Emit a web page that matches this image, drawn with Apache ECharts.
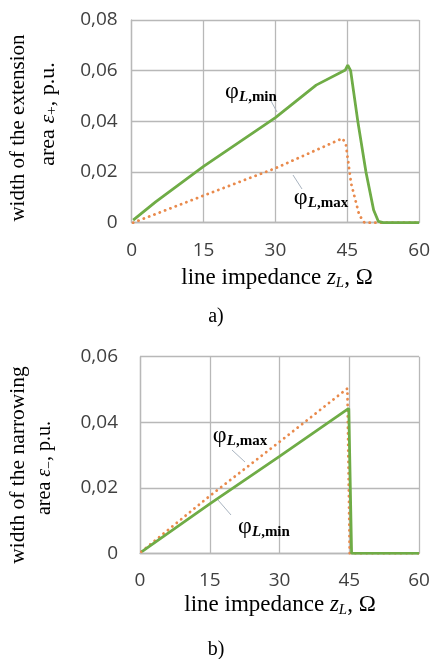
<!DOCTYPE html>
<html><head><meta charset="utf-8">
<script src="https://cdn.jsdelivr.net/npm/echarts@6/dist/echarts.min.js"></script>
<style>html,body{margin:0;padding:0;background:#fff}#c{width:433px;height:659px}</style>
</head><body><div id="c"></div>
<script>
// ---- data ----
// chart a) width of the extension area
const aMinZ = [0.3, 5, 15, 30, 38.5, 44.6, 45.1, 45.7, 47.2, 48.9, 50.5, 51.5, 52.5, 60];
const aMinV = [0.001, 0.0082, 0.0222, 0.0415, 0.0543, 0.0603, 0.0622, 0.0600, 0.040, 0.020, 0.005, 0.0005, 0, 0];
const aMaxZ = [0.3, 15, 30, 44, 44.7, 45.8, 47.5, 48.6, 60];
const aMaxV = [0, 0.0107, 0.0215, 0.0333, 0.031, 0.0155, 0.003, 0, 0];
// chart b) width of the narrowing area
const bMinZ = [0.4, 15, 30, 44.9, 45.5, 60];
const bMinV = [0.0005, 0.0151, 0.0296, 0.0442, 0, 0];
const bMaxZ = [0.3, 15, 30, 44.6, 45.1, 60];
const bMaxV = [0.0005, 0.0175, 0.0340, 0.0503, 0, 0];
const xTicks = [0, 15, 30, 45, 60];
const aYTicks = [0, 0.02, 0.04, 0.06, 0.08];
const bYTicks = [0, 0.02, 0.04, 0.06];

const pair = (xs, ys) => xs.map((x, i) => [x, ys[i]]);
const GREEN = '#6fac46', ORANGE = '#e98a4c', GRID = '#b8b8b8';
const SERIF = '"Liberation Serif","DejaVu Serif",serif';
const SANS = '"Open Sans","Liberation Sans",sans-serif';

function xAxis(gi, margin) {
  return {
    type: 'value', gridIndex: gi, min: xTicks[0], max: xTicks[xTicks.length - 1], interval: 15,
    axisLine: {show: true, lineStyle: {color: GRID, width: 1.3}},
    axisTick: {show: false},
    splitLine: {show: true, lineStyle: {color: GRID, width: 1.3}},
    axisLabel: {margin: margin, fontFamily: SANS, fontSize: 19, color: '#404040'}
  };
}
function yAxis(gi, ticks, margin) {
  return {
    type: 'value', gridIndex: gi, min: 0, max: ticks[ticks.length - 1], interval: 0.02,
    axisLine: {show: true, lineStyle: {color: GRID, width: 1.3}},
    axisTick: {show: false},
    splitLine: {show: true, lineStyle: {color: GRID, width: 1.3}},
    axisLabel: {margin: margin, fontFamily: SANS, fontSize: 19, color: '#404040',
      formatter: v => (v === 0 ? '0' : v.toFixed(2).replace('.', ','))}
  };
}
function line(name, gi, data, color, dotted) {
  return {
    name, type: 'line', xAxisIndex: gi, yAxisIndex: gi, data, symbol: 'none', smooth: false,
    lineStyle: dotted ? {color, width: 2.8, type: [0.1, 5.6], cap: 'round'} : {color, width: 2.8},
    z: dotted ? 2 : 3
  };
}
const phiRich = {
  p: {fontFamily: SERIF, fontSize: 24, color: '#222'},
  l: {fontFamily: SERIF, fontSize: 15, fontStyle: 'italic', fontWeight: 'bold', color: '#333', padding: [10, 0, 0, 0]},
  m: {fontFamily: SERIF, fontSize: 15, fontWeight: 'bold', color: '#333', padding: [10, 0, 0, 0]}
};
function phi(x, y, sub) {
  return {type: 'text', x, y, z: 10, style: {text: '{p|φ}{l|L}{m|,' + sub + '}', rich: phiRich, align: 'center', verticalAlign: 'middle'}};
}
function leader(x1, y1, x2, y2) {
  return {type: 'line', z: 9, shape: {x1, y1, x2, y2}, style: {stroke: '#a9b4c0', lineWidth: 1}};
}
function rich(sz) {
  return {
    n: {fontFamily: SERIF, fontSize: sz, color: '#111'},
    i: {fontFamily: SERIF, fontSize: sz, fontStyle: 'italic', color: '#111'},
    s: {fontFamily: SERIF, fontSize: sz * 0.65, fontStyle: 'italic', color: '#111', padding: [sz * 0.4, 0, 0, 0]},
    t: {fontFamily: SERIF, fontSize: sz * 0.7, color: '#111', padding: [sz * 0.4, 0, 0, 0]}
  };
}
function vtext(x, y, text, sz) {
  return {type: 'text', x, y, rotation: Math.PI / 2, style: {text, rich: rich(sz), align: 'center', verticalAlign: 'middle'}};
}
function htext(x, y, text, sz) {
  return {type: 'text', x, y, style: {text, rich: rich(sz), align: 'center', verticalAlign: 'middle'}};
}

const chart = echarts.init(document.getElementById('c'), null, {renderer: 'canvas'});
chart.setOption({
  animation: false,
  backgroundColor: '#fff',
  grid: [
    {left: 131.7, top: 20, width: 288.3, height: 202.7},
    {left: 140, top: 356.7, width: 279, height: 196.6}
  ],
  xAxis: [xAxis(0, 18), xAxis(1, 18)],
  yAxis: [yAxis(0, aYTicks, 14), yAxis(1, bYTicks, 22)],
  series: [
    line('a φL,max', 0, pair(aMaxZ, aMaxV), ORANGE, true),
    line('a φL,min', 0, pair(aMinZ, aMinV), GREEN, false),
    line('b φL,max', 1, pair(bMaxZ, bMaxV), ORANGE, true),
    line('b φL,min', 1, pair(bMinZ, bMinV), GREEN, false)
  ],
  graphic: [
    vtext(18, 128, '{n|width of the extension}', 21),
    vtext(48, 114, '{n|area }{i|ε}{t|+}{n|, p.u.}', 22),
    htext(277, 278, '{n|line impedance }{i|z}{s|L}{n|, Ω}', 23),
    htext(216, 317, '{n|a)}', 20),
    vtext(18, 465, '{n|width of the narrowing}', 21.5),
    vtext(45, 468, '{n|area }{i|ε}{t|−}{n|, p.u.}', 20),
    htext(280, 605, '{n|line impedance }{i|z}{s|L}{n|, Ω}', 23),
    htext(216, 650, '{n|b)}', 20),
    phi(251, 92, 'min'), leader(271, 101, 277, 112),
    phi(321, 198, 'max'), leader(293, 175, 302, 189),
    phi(240, 436, 'max'), leader(232, 450, 245, 462),
    phi(264, 527, 'min'), leader(218, 500, 231, 515)
  ]
});
</script></body></html>
